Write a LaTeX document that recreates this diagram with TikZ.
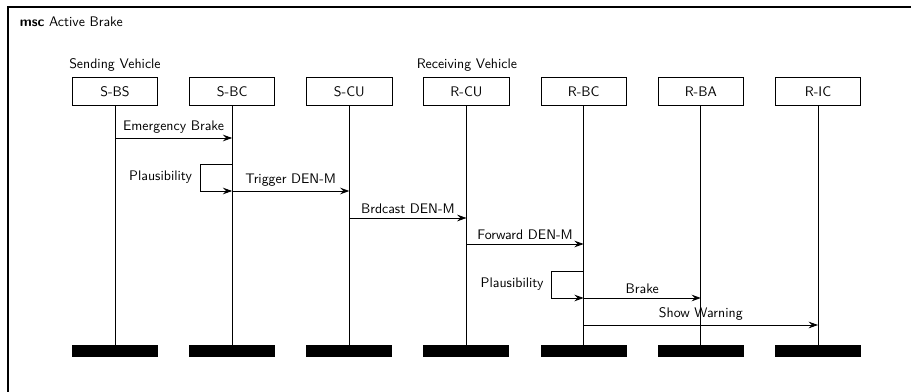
\documentclass[tikz,border=0pt]{standalone}
\usepackage{tikz}
\usetikzlibrary{positioning}
\usetikzlibrary{arrows.meta}

\begin{document}
\begin{tikzpicture}[x=0.75pt,y=-0.75pt,font=\sffamily\fontsize{10.4pt}{12.5pt}\selectfont,
		inst/.style={draw,rectangle,line width=0.6pt,minimum width=64pt,minimum height=21.25pt,inner sep=0pt},
		instend/.style={fill=black,rectangle,minimum width=64.5pt,minimum height=9pt,inner sep=0pt},
		grp/.style={anchor=base west,inner sep=0pt},
		life/.style={line width=0.6pt},
		msg/.style={line width=0.6pt,-{Stealth[length=7pt,width=5pt,inset=2.5pt]}}]
		\useasboundingbox (0,0) rectangle (911,392);
		\clip (0,0) rectangle (911,392);
		\draw[line width=0.8pt] (8,7) rectangle (980,440);
		\node[grp] (title) at (19.5,27) {\textbf{msc} Active Brake};
		\node[inst] at (115,91.5) (sbs) {S-BS};
		\node[right = 23.27pt of sbs, inst] (sbc) {S-BC};
		\node[right = 23.27pt of sbc, inst] (scu) {S-CU};
		\node[right = 23.27pt of scu, inst] (rcu) {R-CU};
		\node[right = 23.27pt of rcu, inst] (rbc) {R-BC};
		\node[right = 23.27pt of rbc, inst] (rba) {R-BA};
		\node[right = 23.27pt of rba, inst] (ric) {R-IC};
		\node[grp] at (69,69) (send) {Sending Vehicle};
		\node[grp] at (416.5,69) (recv) {Receiving Vehicle};
		\foreach \i in {sbs,sbc,scu,rcu,rbc,rba,ric} {
			\node[below = 178.9pt of \i, instend] (\i-end) {};
			\draw[life] (\i) to (\i-end);
		}
		\coordinate (m1) at (0,138);
		\coordinate (m2) at (0,164);
		\coordinate (m3) at (0,191);
		\coordinate (m4) at (0,218);
		\coordinate (m5) at (0,244);
		\coordinate (m6) at (0,271);
		\coordinate (m7) at (0,298);
		\coordinate (m8) at (0,325);
		\draw[msg] (sbs |- m1) -- node[above] {Emergency Brake} (sbc |- m1);
		\draw[msg] (sbc |- m2) -- ++(-32,0) |- node[pos=0.25,left=2.5pt] {Plausibility} (sbc |- m3);
		\draw[msg] (sbc |- m3) -- node[above] {Trigger DEN-M} (scu |- m3);
		\draw[msg] (scu |- m4) -- node[above] {Brdcast DEN-M} (rcu |- m4);
		\draw[msg] (rcu |- m5) -- node[above] {Forward DEN-M} (rbc |- m5);
		\draw[msg] (rbc |- m6) -- ++(-32,0) |- node[pos=0.25,left=2.5pt] {Plausibility} (rbc |- m7);
		\draw[msg] (rbc |- m7) -- node[above] {Brake} (rba |- m7);
		\draw[msg] (rbc |- m8) -- node[above] {Show Warning} (ric |- m8);
	\end{tikzpicture}
\end{document}
